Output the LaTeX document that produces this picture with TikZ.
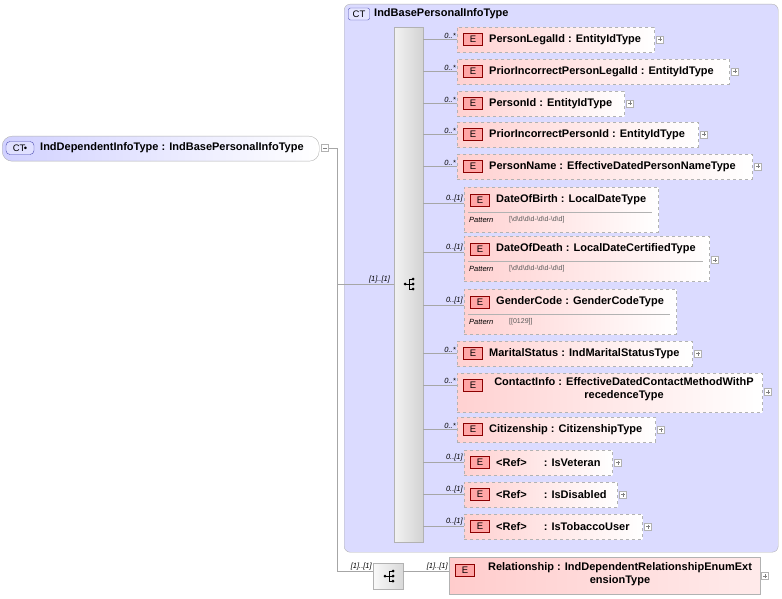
\documentclass[tikz,border=0pt]{standalone}
\usepackage{fontspec}
\setmainfont{Liberation Sans}
\begin{document}
\begin{tikzpicture}[x=1pt,y=-1pt,
 line/.style={draw=gray!70,line width=0.6pt},
 elem/.style={draw=gray!60,dashed,line width=0.6pt,left color=red!18,right color=white,anchor=north west,inner sep=0pt},
 badge/.style={draw=red!55!black,fill=red!35,minimum width=19pt,minimum height=12pt,inner sep=0pt,font=\fontsize{9.5}{10}\selectfont},
 lbl/.style={font=\fontsize{11}{13}\selectfont\bfseries,anchor=west,inner sep=0pt,align=center},
 card/.style={font=\fontsize{7.5}{8}\selectfont\itshape,anchor=south east,inner sep=1pt},
 plusb/.style={draw=gray!60,fill=white,minimum size=7pt,inner sep=0pt}]
\useasboundingbox (0,0) rectangle (782,599);
% CT big box
\node[draw=gray!60,rounded corners=6pt,fill=blue!14,anchor=north west,minimum width=434pt,minimum height=548pt,inner sep=0pt] (ct) at (344,4) {};
\node[draw=gray!60!blue,rounded corners=2pt,fill=blue!10,minimum width=21pt,minimum height=12pt,inner sep=0pt,font=\fontsize{9.5}{10}\selectfont] (ctb) at (359,14) {CT};
\node[lbl] (ctt) at (374,14) {IndBasePersonalInfoType};
% root
\node[draw=gray!60,rounded corners=10pt,left color=blue!18,right color=white,anchor=north west,minimum width=317pt,minimum height=25pt,inner sep=0pt] (root) at (2,136) {};
\node[draw=gray!60!blue,rounded corners=4pt,fill=blue!12,minimum width=28pt,minimum height=13pt,inner sep=0pt,font=\fontsize{9.5}{10}\selectfont] (rb) at (20,148) {CT$\!$\textbullet};
\node[lbl] (rt) at (40,148) {IndDependentInfoType : IndBasePersonalInfoType};
\node[plusb] (rm) at (325,148) {};
\draw[gray] (rm.west)++(1.5,0) -- ++(4,0);
% sequence bar
\node[draw=gray!60,left color=gray!10,right color=gray!35,anchor=north west,minimum width=29pt,minimum height=515pt,inner sep=0pt] (seq) at (394,27) {};
\coordinate (j) at (337,148);
\draw[line] (rm.east) -- (j) -- (337,571);
\draw[line] (337,284) -- (seq.west|-0,284) node[card,pos=0.95,anchor=south east] {[1]..[1]};
\newcommand\seqicon[1]{\begin{scope}[shift={#1}]
 \fill (-4,0) circle (1.5pt);
 \draw[line width=0.6pt] (-4,0)--(0,0) (0,-5)--(0,5) (0,-5)--(4,-5) (0,0)--(4,0) (0,5)--(4,5);
 \fill (4,-5) circle (1.5pt) (4,0) circle (1.5pt) (4,5) circle (1.5pt);
\end{scope}}
\seqicon{(409,284)}
% elements
\newcommand\el[7]{% name x1 y1 x2 y2 text card
 \node[elem,minimum width=#4pt-#2pt,minimum height=#5pt-#3pt] (#1) at (#2,#3) {};
 \draw[line] (seq.east|-0,#3+12.5) -- (#1.west|-0,#3+12.5) node[card,pos=1] {#7};
 \node[badge] at (#2+16,#3+12.5) {E};
 \node[lbl] at (#2+32,#3+12.5) {#6};
 \node[plusb] at (#4+6,#3+12.5) {};
 \draw[gray] (#4+4,#3+12.5)--(#4+8,#3+12.5) (#4+6,#3+10.5)--(#4+6,#3+14.5);
}
\newcommand\elp[8]{% with pattern
 \node[elem,minimum width=#4pt-#2pt,minimum height=#5pt-#3pt] (#1) at (#2,#3) {};
 \draw[line] (seq.east|-0,#3+16) -- (#1.west|-0,#3+16) node[card,pos=1] {#7};
 \node[badge] at (#2+16,#3+13) {E};
 \node[lbl] at (#2+32,#3+13) {#6};
 \draw[gray!60] (#2+4,#3+25)--(#4-6,#3+25);
 \node[font=\fontsize{7.5}{8}\selectfont\itshape,anchor=west,inner sep=0pt] at (#2+5,#3+33) {Pattern};
 \node[font=\fontsize{7}{8}\selectfont,text=gray!70!black,anchor=west,inner sep=0pt] at (#2+45,#3+33) {#8};
}
\def\dd{\textbackslash d}
\el{e1}{457}{27}{654}{52}{PersonLegalId : EntityIdType}{0..*}
\el{e2}{457}{59}{729}{84}{PriorIncorrectPersonLegalId : EntityIdType}{0..*}
\el{e3}{457}{91}{624}{116}{PersonId : EntityIdType}{0..*}
\el{e4}{457}{122}{698}{147}{PriorIncorrectPersonId : EntityIdType}{0..*}
\el{e5}{457}{154}{752}{179}{PersonName : EffectiveDatedPersonNameType}{0..*}
\elp{e6}{464}{187}{658}{232}{DateOfBirth : LocalDateType}{0..[1]}{[\dd\dd\dd\dd-\dd\dd-\dd\dd]}
\elp{e7}{464}{236}{709}{281}{DateOfDeath : LocalDateCertifiedType}{0..[1]}{[\dd\dd\dd\dd-\dd\dd-\dd\dd]}
\node[plusb] at (715,260) {}; \draw[gray] (713,260)--(717,260) (715,258)--(715,262);
\elp{e8}{464}{289}{676}{334}{GenderCode : GenderCodeType}{0..[1]}{[[0129]]}
\el{e9}{457}{341}{692}{366}{MaritalStatus : IndMaritalStatusType}{0..*}
% ContactInfo (two lines)
\node[elem,minimum width=305pt,minimum height=39pt] (e10) at (457,373) {};
\draw[line] (seq.east|-0,385) -- (e10.west|-0,385) node[card,pos=1] {0..*};
\node[badge] at (473,385) {E};
\node[lbl,anchor=north] at (624,377) {ContactInfo : EffectiveDatedContactMethodWithP\\recedenceType};
\node[plusb] at (768,392) {}; \draw[gray] (766,392)--(770,392) (768,390)--(768,394);
\el{e11}{457}{417}{655}{442}{Citizenship : CitizenshipType}{0..*}
\el{e12}{464}{450}{612}{475}{<Ref>\hspace{14pt} : IsVeteran}{0..[1]}
\el{e13}{464}{482}{617}{507}{<Ref>\hspace{14pt} : IsDisabled}{0..[1]}
\el{e14}{464}{514}{642}{539}{<Ref>\hspace{14pt} : IsTobaccoUser}{0..[1]}
% bottom sequence
\node[draw=gray!60,left color=gray!5,right color=gray!30,anchor=north west,minimum width=30pt,minimum height=26pt,inner sep=0pt] (seq2) at (373,563) {};
\seqicon{(389,576)}
\draw[line] (337,571) -- (seq2.west|-0,571) node[card,pos=1] {[1]..[1]};
\node[draw=gray!60,line width=0.6pt,left color=red!20,right color=red!8,anchor=north west,minimum width=311pt,minimum height=37pt,inner sep=0pt] (rel) at (449,557) {};
\draw[line] (seq2.east|-0,571) -- (rel.west|-0,571) node[card,pos=1] {[1]..[1]};
\node[badge] at (465,570) {E};
\node[lbl,anchor=north] at (620,562) {Relationship : IndDependentRelationshipEnumExt\\ensionType};
\node[plusb] at (765,576) {}; \draw[gray] (763,576)--(767,576) (765,574)--(765,578);
\end{tikzpicture}
\end{document}
